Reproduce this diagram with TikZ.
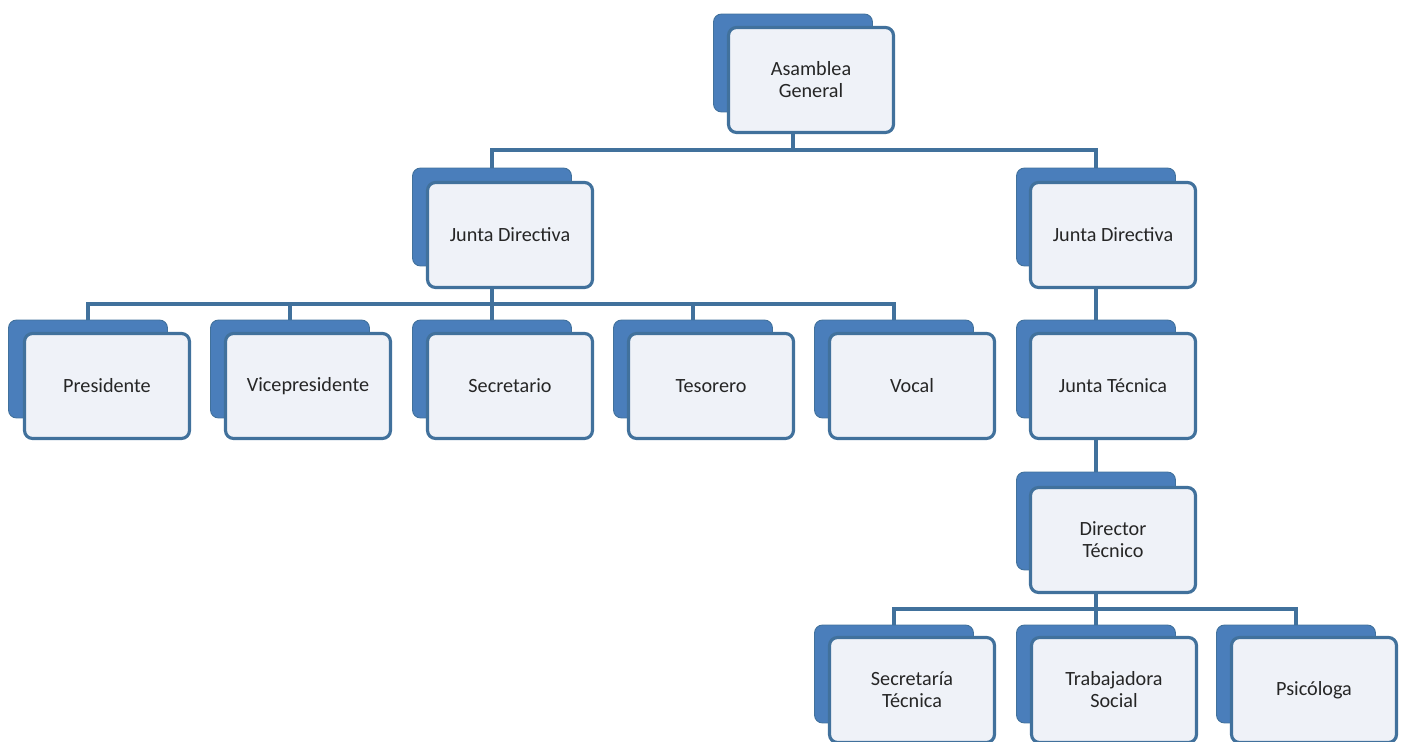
\documentclass[tikz,border=0pt]{standalone}
\usepackage{fontspec}
\setmainfont{Carlito}
\usepackage{tikz}
\usetikzlibrary{shapes,backgrounds}

\definecolor{boxblue}{HTML}{4A7EBB}
\definecolor{edgeblue}{HTML}{41719C}
\definecolor{paleblue}{HTML}{EFF2F8}

\begin{document}
\begin{tikzpicture}[x=0.02cm,y=-0.02cm,
                back/.style={draw=edgeblue,fill=boxblue,rounded corners=0.16cm,inner sep=0pt,
                             minimum width=3.18cm,minimum height=1.96cm,line width=0.5pt},
                front/.style={draw=edgeblue,fill=paleblue,rounded corners=0.16cm,line width=1.8pt,
                              minimum width=3.3cm,minimum height=2.1cm,align=center,
                              text=black!85,font=\fontsize{11.5}{12.5}\selectfont},
                link/.style={draw=edgeblue,line width=2.1pt}]
  \useasboundingbox (0,0) rectangle (1403,742);
  % top
  \node[back]  (asm)  at (793,63)   {};
  \node[front] (asm1) at (811,80)   {Asamblea\\General};
  % second row
  \node[back]  (jdl)  at (492,217)  {};
  \node[front] (jdl1) at (510,235)  {Junta Directiva};
  \node[back]  (jdr)  at (1096,217) {};
  \node[front] (jdr1) at (1113,235) {Junta Directiva};
  % third row
  \node[back]  (pre)  at (88,369)   {};
  \node[front] (pre1) at (107,386)  {Presidente};
  \node[back]  (vic)  at (290,369)  {};
  \node[front] (vic1) at (308,386)  {Vicepresidente};
  \node[back]  (sec)  at (492,369)  {};
  \node[front] (sec1) at (510,386)  {Secretario};
  \node[back]  (tes)  at (693,369)  {};
  \node[front] (tes1) at (711,386)  {Tesorero};
  \node[back]  (voc)  at (894,369)  {};
  \node[front] (voc1) at (912,386)  {Vocal};
  \node[back]  (jt)   at (1096,369) {};
  \node[front] (jt1)  at (1113,386) {Junta Técnica};
  % fourth row
  \node[back]  (dt)   at (1096,521) {};
  \node[front] (dt1)  at (1113,540) {Director\\Técnico};
  % bottom row
  \node[back]  (st)   at (894,674)  {};
  \node[front] (st1)  at (912,690)  {Secretaría\\Técnica};
  \node[back]  (ts)   at (1096,674) {};
  \node[front] (ts1)  at (1114,690) {Trabajadora\\Social};
  \node[back]  (psi)  at (1296,674) {};
  \node[front] (psi1) at (1314,690) {Psicóloga};
  % connectors
  \coordinate (b0) at (793,150);
  \coordinate (b1) at (492,304);
  \coordinate (b2) at (1096,609);
  \begin{pgfonlayer}{background}
    \draw[link] (asm.south) -- (b0) -| (jdl.north);
    \draw[link] (b0) -| (jdr.north);
    \draw[link] (jdl.south) -- (b1) -| (pre.north);
    \draw[link] (b1) -| (vic.north);
    \draw[link] (b1) -- (sec.north);
    \draw[link] (b1) -| (tes.north);
    \draw[link] (b1) -| (voc.north);
    \draw[link] (jdr.south) -- (jt.north);
    \draw[link] (jt.south) -- (dt.north);
    \draw[link] (dt.south) -- (b2) -| (st.north);
    \draw[link] (b2) -- (ts.north);
    \draw[link] (b2) -| (psi.north);
  \end{pgfonlayer}
\end{tikzpicture}
\end{document}
